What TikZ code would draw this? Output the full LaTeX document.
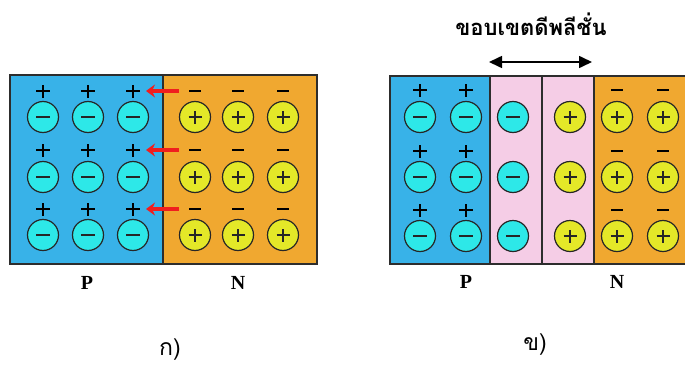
\documentclass[tikz,border=0pt]{standalone}
\usepackage{fontspec}
\setmainfont{Liberation Serif}
\newfontfamily\thaifont[Script=Thai]{Loma}
\usetikzlibrary{arrows.meta}
\definecolor{pblue}{RGB}{56,178,232}
\definecolor{norange}{RGB}{240,168,48}
\definecolor{cyanion}{RGB}{45,232,232}
\definecolor{yellowion}{RGB}{228,232,40}
\definecolor{pinkd}{RGB}{245,205,230}
\definecolor{reda}{RGB}{240,30,30}
\definecolor{edge}{RGB}{45,45,45}
\tikzset{
  ion/.style={circle, draw=black!85, line width=1.2pt, minimum size=31pt, inner sep=0pt},
  negion/.style={ion, fill=cyanion, path picture={\draw[line width=2.4pt] ([xshift=-7pt]path picture bounding box.center) -- ([xshift=7pt]path picture bounding box.center);}},
  posion/.style={ion, fill=yellowion, path picture={\draw[line width=2.2pt] ([xshift=-6.5pt]path picture bounding box.center) -- ([xshift=6.5pt]path picture bounding box.center) ([yshift=-6.5pt]path picture bounding box.center) -- ([yshift=6.5pt]path picture bounding box.center);}},
  hole/.style={minimum size=15pt, inner sep=0pt, path picture={\draw[line width=2.2pt] ([xshift=-7pt]path picture bounding box.center) -- ([xshift=7pt]path picture bounding box.center) ([yshift=-6.5pt]path picture bounding box.center) -- ([yshift=6.5pt]path picture bounding box.center);}},
  electron/.style={minimum size=15pt, inner sep=0pt, path picture={\draw[line width=1.8pt] ([xshift=-6pt]path picture bounding box.center) -- ([xshift=6pt]path picture bounding box.center);}},
  region/.style={draw=edge, line width=1.3pt},
  flowarrow/.style={draw=reda, line width=3.5pt, -{Stealth[length=9pt,width=13pt]}},
  widtharrow/.style={draw=black, line width=1.6pt, {Triangle[length=13pt,width=12pt]}-{Triangle[length=13pt,width=12pt]}},
  sidelabel/.style={font=\bfseries\fontsize{20}{22}\selectfont},
  caption/.style={font=\thaifont\fontsize{23}{26}\selectfont},
}
\begin{document}
\begin{tikzpicture}[x=1pt,y=-1pt]
\clip (0,0) rectangle (685,372);
\fill[white] (0,0) rectangle (685,372);
% ---------- diagram a ----------
\path[region, fill=pblue] (10,75) rectangle (163,264);
\path[region, fill=norange] (163,75) rectangle (317,264);
\foreach \r/\y/\s in {1/117/91, 2/177/150, 3/235/209}{
  \foreach \c/\x in {1/43, 2/88, 3/133}{
    \node[negion] (aP\r\c) at (\x,\y) {};
    \node[hole] (ah\r\c) at (\x,\s) {};
  }
  \foreach \c/\x in {1/195, 2/238, 3/283}{
    \node[posion] (aN\r\c) at (\x,\y) {};
    \node[electron] (ae\r\c) at (\x,\s) {};
  }
  \coordinate (as\r) at (179,\s);
  \coordinate (at\r) at (146,\s);
  \draw[flowarrow] (as\r) -- (at\r);
}
\node[sidelabel] (aPl) at (87,283) {P};
\node[sidelabel] (aNl) at (238,283) {N};
\node[caption] (acap) at (170,350) {ก)};
% ---------- diagram b ----------
\path[region, fill=pblue] (390,76) rectangle (490,264);
\path[region, fill=pinkd] (490,76) rectangle (542,264);
\path[region, fill=pinkd] (542,76) rectangle (594,264);
\path[region, fill=norange] (594,76) rectangle (700,264);
\foreach \r/\y/\s in {1/117/90, 2/177/151, 3/236/210}{
  \foreach \c/\x in {1/420, 2/466}{
    \node[negion] (bP\r\c) at (\x,\y) {};
    \node[hole] (bh\r\c) at (\x,\s) {};
  }
  \node[negion] (bD\r1) at (513,\y) {};
  \node[posion] (bD\r2) at (570,\y) {};
  \foreach \c/\x in {1/617, 2/663}{
    \node[posion] (bN\r\c) at (\x,\y) {};
    \node[electron] (be\r\c) at (\x,\s) {};
  }
}
\coordinate (dl) at (489,62);
\coordinate (dr) at (592,62);
\draw[widtharrow] (dl) -- (dr);
\node[font=\thaifont\bfseries\fontsize{22}{26}\selectfont] (title) at (531,24) {ขอบเขตดีพลีชั่น};
\node[sidelabel] (bPl) at (466,282) {P};
\node[sidelabel] (bNl) at (617,282) {N};
\node[caption] (bcap) at (535,345) {ข)};
\end{tikzpicture}
\end{document}
